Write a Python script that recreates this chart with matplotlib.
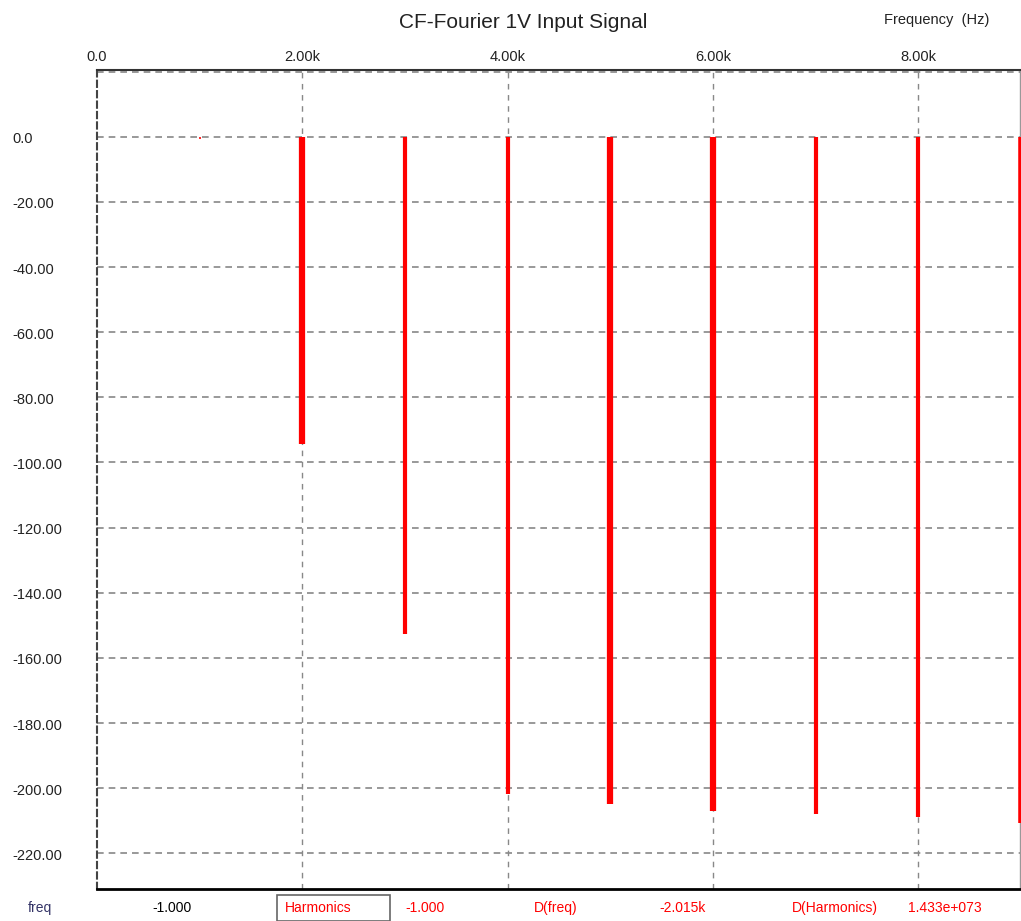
import matplotlib
matplotlib.use("Agg")
import matplotlib.pyplot as plt
from matplotlib.patches import Rectangle
from matplotlib.transforms import blended_transform_factory

plt.rcParams["font.family"] = ["Liberation Sans", "DejaVu Sans"]

# Harmonic spectrum: frequency (Hz) and magnitude (dB)
freqs = [1000, 2000, 3000, 4000, 5000, 6000, 7000, 8000, 9000]
mag_db = [-0.6, -94.5, -152.8, -201.8, -204.9, -207.0, -207.9, -208.9, -210.7]
widths = [1.2, 4.5, 3.0, 3.0, 4.5, 4.5, 3.0, 3.0, 4.0]

x_ticks = [0, 2000, 4000, 6000, 8000]
x_tick_labels = ["0.0", "2.00k", "4.00k", "6.00k", "8.00k"]
y_ticks = [0, -20, -40, -60, -80, -100, -120, -140, -160, -180, -200, -220]
y_tick_labels = ["0.0"] + [f"{v:.2f}" for v in y_ticks[1:]]

# cursor readout row along the bottom
readouts = [
    ("freq", 40, "#333366"),
    ("-1.000", 172, "black"),
    ("Harmonics", 318, "red"),
    ("-1.000", 425, "red"),
    ("D(freq)", 556, "red"),
    ("-2.015k", 683, "red"),
    ("D(Harmonics)", 835, "red"),
    ("1.433e+073", 945, "red"),
]

W, H = 1021, 921
fig = plt.figure(figsize=(W / 100, H / 100), dpi=100)
ax = fig.add_axes([97 / W, 1 - 889 / H, (1020 - 97) / W, (889 - 70) / H])

ax.set_xlim(0, 8990)
ax.set_ylim(-231, 20.5)

for f, m, w in zip(freqs, mag_db, widths):
    ax.vlines(f, m, 0, color="red", linewidth=w, zorder=3, clip_on=False)

# grid
for xv in x_ticks[1:]:
    ax.axvline(xv, color="#888888", linestyle=(0, (4, 4)), linewidth=1, zorder=1)
for yv in [20] + y_ticks:
    ax.axhline(yv, color="#888888", linestyle=(0, (4, 3)), linewidth=1.2, zorder=1)

ax.set_xticks([])
ax.set_yticks([])
ax.spines["top"].set_color("#333333")
ax.spines["top"].set_linewidth(1.5)
ax.spines["bottom"].set_color("black")
ax.spines["bottom"].set_linewidth(2)
ax.spines["left"].set_linestyle((0, (3, 2)))
ax.spines["left"].set_color("#444444")
ax.spines["left"].set_linewidth(1.5)
ax.spines["right"].set_color("#999999")
ax.spines["right"].set_linewidth(1)

# top frequency tick labels
top = blended_transform_factory(ax.transData, fig.transFigure)
for xv, lab in zip(x_ticks, x_tick_labels):
    ax.text(xv, 1 - 57 / H, lab, transform=top, ha="center", va="center",
            fontsize=10.5, color="#222222", clip_on=False)

# left dB tick labels
left = blended_transform_factory(fig.transFigure, ax.transData)
for yv, lab in zip(y_ticks, y_tick_labels):
    ax.text(12 / W, yv - 0.8, lab, transform=left, fontsize=10.5,
            ha="left", va="center", color="#222222", clip_on=False)

fig.text(523 / W, 1 - 22 / H, "CF-Fourier 1V Input Signal", ha="center",
         va="center", fontsize=15, color="#222222")
fig.text(937 / W, 1 - 20 / H, "Frequency  (Hz)", ha="center", va="center",
         fontsize=10.5, color="#222222")

for lab, xp, col in readouts:
    fig.text(xp / W, 1 - 908 / H, lab, ha="center", va="center",
             fontsize=10, color=col)

fig.patches.append(Rectangle((277 / W, 1 - 921 / H), (390 - 277) / W, 26 / H,
                             transform=fig.transFigure, fill=False,
                             edgecolor="#666666", linewidth=1.2))

fig.savefig("out.png", dpi=100)
